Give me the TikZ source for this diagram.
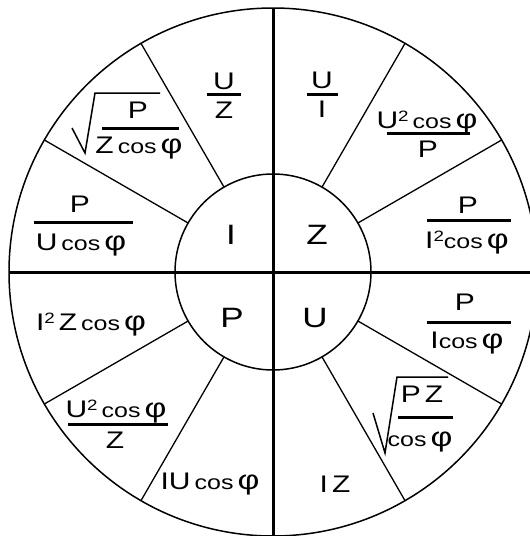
\documentclass[tikz,border=0pt]{standalone}
\usepackage{fontspec}
\setmainfont[FakeStretch=1.25]{Liberation Sans}
\usetikzlibrary{calc}
\newcommand\bigf{\fontsize{28}{28}\selectfont}
\newcommand\midf{\fontsize{24}{24}\selectfont}
\newcommand\gp{\hspace{4pt}}
\newcommand\cosf{{\fontsize{20}{20}\selectfont cos}}
\newcommand\phf{{\fontsize{27}{27}\selectfont φ}}
\newcommand\sqf{\raisebox{6.5pt}{\fontsize{15}{15}\selectfont 2}}
\begin{document}
\begin{tikzpicture}[x=1pt,y=-1pt,
  axis/.style={line width=3pt},
  ring/.style={line width=1.5pt},
  divider/.style={line width=1.3pt},
  fracbar/.style={line width=3pt},
  radical/.style={line width=1.5pt,line join=miter},
  big/.style={inner sep=0pt,anchor=base,font=\bigf},
  txt/.style={inner sep=0pt,anchor=base,font=\midf}]
\useasboundingbox (0,0) rectangle (530,536);
\coordinate (O) at (273,272);
% circles
\draw[ring] (O) circle[radius=264];
\draw[ring] (O) circle[radius=98];
% axes
\draw[axis] ($(O)+(0,-264)$) -- ($(O)+(0,264)$);
\draw[axis] ($(O)+(-264,0)$) -- ($(O)+(264,0)$);
% dividers
\foreach \a in {30,60,120,150,210,240,300,330}
  \draw[divider] ($(O)+(\a:98)$) -- ($(O)+(\a:264)$);
% inner letters
\node[big] (nI) at (231,244) {I};
\node[big] (nZ) at (317,244) {Z};
\node[big] (nP) at (232,327) {P};
\node[big] (nU) at (315,327) {U};
% --- quadrant I (top-left)
\node[txt] (a1) at (224,89) {U};
\draw[fracbar] (207,94) -- (241,94);
\node[txt] (a2) at (224,118) {Z};
\node[txt] (b1) at (138,118) {P};
\draw[fracbar] (102,128) -- (179,128);
\node[txt] (b2) at (139,153) {Z\gp\cosf\gp\phf};
\draw[radical] (72,128) -- (85,153) -- (95,93) -- (160,93);
\node[txt] (c1) at (80,212) {P};
\draw[fracbar] (34,222) -- (133,222);
\node[txt] (c2) at (81,250) {U\gp\cosf\gp\phf};
% --- quadrant Z (top-right)
\node[txt] (d1) at (322,88) {U};
\draw[fracbar] (307,94) -- (338,94);
\node[txt] (d2) at (322,117) {I};
\node[txt] (e1) at (427,128) {U\sqf\gp\cosf\gp\phf};
\draw[fracbar] (387,133) -- (470,133);
\node[txt] (e2) at (428,157) {P};
\node[txt] (f1) at (468,213) {P};
\draw[fracbar] (427,220) -- (511,220);
\node[txt] (f2) at (467,248) {I\sqf\cosf\gp\phf};
% --- quadrant P (bottom-left)
\node[txt] (g1) at (91,330) {I\sqf\gp Z\gp\cosf\gp\phf};
\node[txt] (h1) at (116,417) {U\sqf\gp\cosf\gp\phf};
\draw[fracbar] (68,424) -- (168,424);
\node[txt] (h2) at (115,448) {Z};
\node[txt] (i1) at (210,489) {IU\gp\cosf\gp\phf};
% --- quadrant U (bottom-right)
\node[txt] (j1) at (465,310) {P};
\draw[fracbar] (427,322) -- (511,322);
\node[txt] (j2) at (467,348) {I\cosf\gp\phf};
\node[txt] (k1) at (422,402) {P\gp Z};
\draw[fracbar] (398,417) -- (453,417);
\node[txt] (k2) at (420,446) {\cosf\gp\phf};
\draw[radical] (373,413) -- (385,453) -- (397,377) -- (448,377);
\node[txt] (l1) at (335,492) {I\gp Z};
\end{tikzpicture}
\end{document}
